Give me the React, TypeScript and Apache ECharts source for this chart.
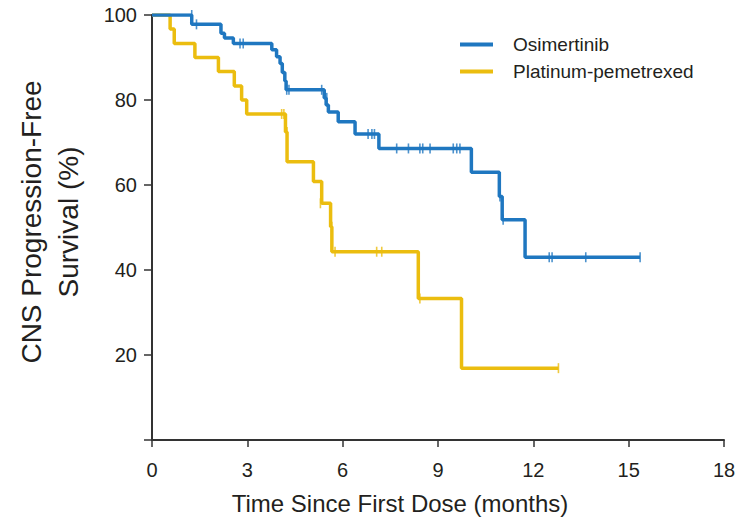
import React, { useEffect, useRef } from "react";
import * as echarts from "echarts";

// Kaplan–Meier step data (months, % CNS progression-free)
const osiTimes = [0, 1.25, 2.17, 2.28, 2.56, 3.77, 3.92, 4.03, 4.1, 4.18, 4.22, 5.42, 5.48, 5.55, 5.86, 6.39, 7.14, 10.05, 10.93, 11.02, 11.74, 15.36];
const osiSurv = [100, 97.8, 95.7, 94.6, 93.3, 91.8, 90.2, 88.6, 86.5, 84.5, 82.4, 80.5, 78.8, 77.2, 74.9, 72.0, 68.6, 63.0, 57.3, 51.8, 43.0, 43.0];
const osiCensorTimes = [1.25, 1.4, 2.77, 2.87, 4.24, 4.31, 5.34, 5.5, 6.8, 6.92, 7.0, 7.7, 8.07, 8.43, 8.52, 8.75, 9.48, 9.59, 9.69, 10.95, 11.05, 12.5, 12.59, 13.65, 15.36];
const osiCensorSurv = [100, 97.8, 93.3, 93.3, 82.4, 82.4, 82.4, 80.5, 72.0, 72.0, 72.0, 68.6, 68.6, 68.6, 68.6, 68.6, 68.6, 68.6, 68.6, 57.3, 51.8, 43.0, 43.0, 43.0, 43.0];

const platTimes = [0, 0.57, 0.7, 1.35, 2.09, 2.59, 2.82, 2.98, 4.2, 4.25, 5.08, 5.34, 5.62, 5.66, 8.38, 9.74, 12.79];
const platSurv = [100, 96.7, 93.3, 90.0, 86.7, 83.3, 80.0, 76.7, 72.5, 65.5, 60.8, 55.7, 50.2, 44.3, 33.3, 16.9, 16.9];
const platCensorTimes = [4.08, 4.15, 4.25, 5.3, 5.66, 5.76, 7.07, 7.23, 8.43, 12.79];
const platCensorSurv = [76.7, 76.7, 72.5, 55.7, 50.2, 44.3, 44.3, 44.3, 33.3, 16.9];

const xTicks = [0, 3, 6, 9, 12, 15, 18];
const yTicks = [20, 40, 60, 80, 100];

const seriesNames = ["Osimertinib", "Platinum-pemetrexed"];
const xAxisTitle = "Time Since First Dose (months)";
const yAxisTitle = "CNS Progression-Free\nSurvival (%)";

const BLUE = "#1f77c0";
const YELLOW = "#ebbd0f";
const INK = "#231f20";
const FONT = '"Liberation Sans", Arial, sans-serif';

const zip = (a: number[], b: number[]) => a.map((v, i) => [v, b[i]]);

export default function App() {
  const ref = useRef<HTMLDivElement>(null);
  useEffect(() => {
    if (!ref.current) return;
    const chart = echarts.init(ref.current, undefined, { renderer: "svg" });
    chart.setOption({
      animation: false,
      backgroundColor: "#ffffff",
      textStyle: { fontFamily: FONT },
      grid: { left: 152, right: 29, top: 15, bottom: 85, containLabel: false },
      legend: {
        data: seriesNames,
        orient: "vertical",
        left: 455,
        top: 30,
        itemWidth: 33,
        itemHeight: 4,
        itemGap: 8,
        icon: "rect",
        textStyle: { fontSize: 19, color: INK, fontFamily: FONT, padding: [0, 0, 0, 15] },
      },
      xAxis: {
        type: "value",
        min: 0,
        max: 18,
        interval: 3,
        splitLine: { show: false },
        axisLine: { show: true, onZero: false, lineStyle: { color: "#333", width: 2 } },
        axisTick: { show: true, length: 7, lineStyle: { color: "#333", width: 1.5 } },
        axisLabel: {
          margin: 20,
          fontSize: 20,
          color: INK,
          fontFamily: FONT,
          formatter: (v: number) => (xTicks.includes(v) ? String(v) : ""),
        },
      },
      yAxis: {
        type: "value",
        min: 0,
        max: 100,
        interval: 20,
        splitLine: { show: false },
        axisLine: { show: true, onZero: false, lineStyle: { color: "#333", width: 2 } },
        axisTick: { show: true, length: 8, lineStyle: { color: "#333", width: 1.5 } },
        axisLabel: {
          margin: 15,
          fontSize: 20,
          color: INK,
          fontFamily: FONT,
          formatter: (v: number) => (yTicks.includes(v) ? String(v) : ""),
        },
      },
      graphic: [
        {
          type: "text",
          x: 400,
          y: 503,
          style: {
            text: xAxisTitle,
            fill: INK,
            font: `24px ${FONT}`,
            textAlign: "center",
            textVerticalAlign: "middle",
          },
        },
        {
          type: "text",
          x: 50,
          y: 222,
          rotation: Math.PI / 2,
          style: {
            text: yAxisTitle,
            fill: INK,
            font: `28px ${FONT}`,
            lineHeight: 37,
            textAlign: "center",
            textVerticalAlign: "middle",
          },
        },
      ],
      series: [
        {
          name: seriesNames[0],
          type: "line",
          step: "end",
          data: zip(osiTimes, osiSurv),
          showSymbol: false,
          color: BLUE,
          lineStyle: { color: BLUE, width: 3.5 },
          z: 3,
        },
        {
          name: seriesNames[1],
          type: "line",
          step: "end",
          data: zip(platTimes, platSurv),
          showSymbol: false,
          color: YELLOW,
          lineStyle: { color: YELLOW, width: 3.5 },
          z: 2,
        },
        {
          name: "Osimertinib censored",
          type: "scatter",
          data: zip(osiCensorTimes, osiCensorSurv),
          symbol: "rect",
          symbolSize: [1.6, 10],
          itemStyle: { color: BLUE },
          z: 4,
        },
        {
          name: "Platinum-pemetrexed censored",
          type: "scatter",
          data: zip(platCensorTimes, platCensorSurv),
          symbol: "rect",
          symbolSize: [1.6, 10],
          itemStyle: { color: YELLOW },
          z: 4,
        },
      ],
    });
    return () => chart.dispose();
  }, []);
  return <div ref={ref} style={{ width: 753, height: 525, margin: -8 }} />;
}
